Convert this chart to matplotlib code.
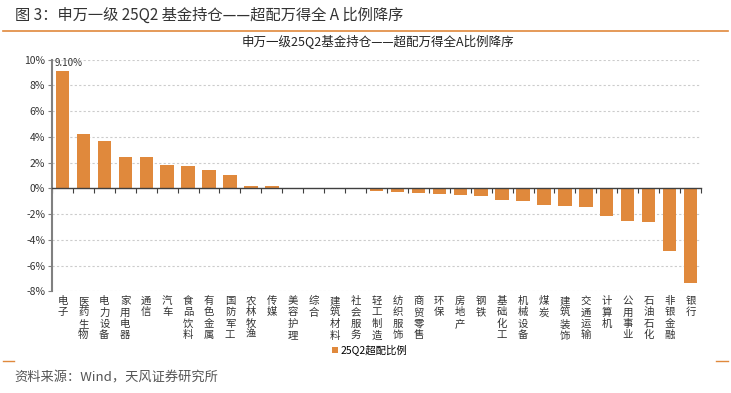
import numpy as np
import matplotlib
matplotlib.use('Agg')
import matplotlib.pyplot as plt
from matplotlib.lines import Line2D
from matplotlib import transforms

plt.rcParams['font.family'] = ['Noto Sans CJK SC', 'DejaVu Sans']

industries = ['电子', '医药生物', '电力设备', '家用电器', '通信', '汽车', '食品饮料',
              '有色金属', '国防军工', '农林牧渔', '传媒', '美容护理', '综合', '建筑材料',
              '社会服务', '轻工制造', '纺织服饰', '商贸零售', '环保', '房地产', '钢铁',
              '基础化工', '机械设备', '煤炭', '建筑装饰', '交通运输', '计算机', '公用事业',
              '石油石化', '非银金融', '银行']
overweight = [9.10, 4.19, 3.67, 2.43, 2.40, 1.83, 1.73, 1.40, 1.03, 0.18, 0.16, 0.05,
              0.00, -0.04, -0.08, -0.20, -0.28, -0.39, -0.47, -0.52, -0.57, -0.90,
              -0.98, -1.32, -1.37, -1.42, -2.17, -2.51, -2.64, -4.88, -7.36]
yticks = [-8, -6, -4, -2, 0, 2, 4, 6, 8, 10]

ORANGE = '#E0893C'
W, H = 731, 393

fig = plt.figure(figsize=(W / 100, H / 100), dpi=100)
ax = fig.add_axes([52 / W, 1 - 291.3 / H, 649 / W, (291.3 - 59.5) / H])

x = np.arange(len(industries))
bars = ax.bar(x, overweight, width=0.64, color=ORANGE, zorder=3, label='25Q2超配比例')
ax.set_xlim(-0.5, len(industries) - 0.5)
ax.set_ylim(-8, 10)

ax.set_yticks(yticks)
ax.set_yticklabels([f'{v}%' for v in yticks], fontsize=7.5, color='#333333')
ax.tick_params(axis='y', length=3, width=0.8, color='#808080', pad=2)
for v in yticks:
    if v != 0:
        ax.axhline(v, color='#CCCCCC', lw=0.8, ls=(0, (2, 2)), zorder=1)

ax.spines['bottom'].set_position(('data', 0))
ax.spines['bottom'].set_color('#404040')
ax.spines['bottom'].set_linewidth(1.0)
ax.spines['bottom'].set_zorder(4)
ax.spines['left'].set_color('#808080')
ax.spines['left'].set_linewidth(1.5)
ax.spines['top'].set_visible(False)
ax.spines['right'].set_visible(False)
ax.set_xticks(np.arange(-0.5, len(industries), 1))
ax.set_xticklabels([])
ax.tick_params(axis='x', length=3.5, width=0.8, color='#404040', direction='out')

ax.text(0.3, overweight[0] + 0.25, '9.10%', ha='center', va='bottom', fontsize=7, color='#333333')

# vertical category labels below the plot
tr = transforms.blended_transform_factory(ax.transData, fig.transFigure)
for i, name in enumerate(industries):
    ax.text(i, 1 - 296 / H, '\n'.join(name), transform=tr, ha='center', va='top',
            fontsize=7.5, linespacing=1.17, color='#333333')

fig.text(15 / W, 1 - 15 / H, '图 3：申万一级 25Q2 基金持仓——超配万得全 A 比例降序',
         ha='left', va='center', fontsize=11, color='#333333')
fig.add_artist(Line2D([3 / W, 728 / W], [1 - 30.7 / H] * 2, color=ORANGE, lw=1.2))
fig.text(378 / W, 1 - 42 / H, '申万一级25Q2基金持仓——超配万得全A比例降序',
         ha='center', va='center', fontsize=9, color='#222222')

fig.legend(handles=[bars], loc='center', bbox_to_anchor=(370 / W, 1 - 350 / H),
           frameon=False, fontsize=7.5, handlelength=0.5, handleheight=0.5,
           handletextpad=0.3, borderpad=0)

fig.add_artist(Line2D([3 / W, 14 / W], [1 - 361 / H] * 2, color=ORANGE, lw=1.0))
fig.add_artist(Line2D([716 / W, 728 / W], [1 - 361 / H] * 2, color=ORANGE, lw=1.0))
fig.text(14 / W, 1 - 378 / H, '资料来源：Wind，天风证券研究所', ha='left', va='center',
         fontsize=9.5, color='#555555')

fig.savefig('out.png', dpi=100)
